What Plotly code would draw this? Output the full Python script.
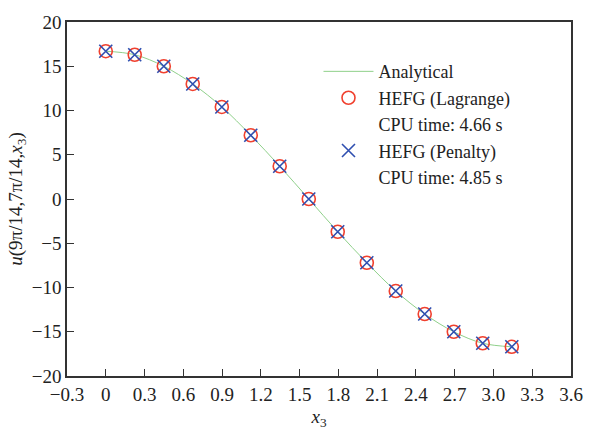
import plotly.graph_objects as go

# Sample points along x3 (k*pi/14, k = 0..14) and the displacement values
x3 = [0.0, 0.224, 0.449, 0.673, 0.898, 1.122, 1.346, 1.571,
      1.795, 2.020, 2.244, 2.468, 2.693, 2.917, 3.142]
u_analytical = [16.7, 16.3, 15.0, 13.0, 10.4, 7.2, 3.7, 0.0,
                -3.7, -7.2, -10.4, -13.0, -15.0, -16.3, -16.7]
u_lagrange = [16.7, 16.3, 15.0, 13.0, 10.4, 7.2, 3.7, 0.0,
              -3.7, -7.2, -10.4, -13.0, -15.0, -16.3, -16.7]
u_penalty = [16.7, 16.3, 15.0, 13.0, 10.4, 7.2, 3.7, 0.0,
             -3.7, -7.2, -10.4, -13.0, -15.0, -16.3, -16.7]

x_ticks = [-0.3, 0, 0.3, 0.6, 0.9, 1.2, 1.5, 1.8, 2.1, 2.4, 2.7, 3.0, 3.3, 3.6]
x_ticktext = ["\u22120.3", "0", "0.3", "0.6", "0.9", "1.2", "1.5", "1.8",
              "2.1", "2.4", "2.7", "3.0", "3.3", "3.6"]
y_ticks = [-20, -15, -10, -5, 0, 5, 10, 15, 20]
y_ticktext = ["\u221220", "\u221215", "\u221210", "\u22125", "0", "5", "10", "15", "20"]

FONT = "Liberation Serif"
AXIS_COLOR = "#333333"
TEXT_COLOR = "#222222"

fig = go.Figure()

fig.add_trace(go.Scatter(
    x=x3, y=u_analytical, mode="lines", name="Analytical",
    line=dict(color="#8fd08a", width=1, shape="spline"),
))
fig.add_trace(go.Scatter(
    x=x3, y=u_lagrange, mode="markers", name="HEFG (Lagrange)",
    marker=dict(symbol="circle-open", size=13, color="#f0402e",
                line=dict(width=1.6, color="#f0402e")),
))
fig.add_trace(go.Scatter(
    x=[None], y=[None], mode="markers", name="CPU time: 4.66 s",
    marker=dict(size=1, color="rgba(0,0,0,0)"),
))
fig.add_trace(go.Scatter(
    x=x3, y=u_penalty, mode="markers", name="HEFG (Penalty)",
    marker=dict(symbol="x-thin-open", size=13, color="#2f4fb0",
                line=dict(width=1.6, color="#2f4fb0")),
))
fig.add_trace(go.Scatter(
    x=[None], y=[None], mode="markers", name="CPU time: 4.85 s",
    marker=dict(size=1, color="rgba(0,0,0,0)"),
))

axis_common = dict(
    showgrid=False, zeroline=False,
    showline=True, linecolor=AXIS_COLOR, linewidth=1.6, mirror=True,
    ticks="inside", ticklen=7, tickwidth=1.4, tickcolor=AXIS_COLOR,
    tickfont=dict(family=FONT, size=19, color=TEXT_COLOR),
)

fig.update_xaxes(
    range=[-0.3, 3.6], tickmode="array", tickvals=x_ticks, ticktext=x_ticktext,
    title=dict(text="<i>x</i><sub>3</sub>", font=dict(family=FONT, size=19, color=TEXT_COLOR),
               standoff=6),
    **axis_common,
)
fig.update_yaxes(
    range=[-20, 20], tickmode="array", tickvals=y_ticks, ticktext=y_ticktext,
    title=dict(text="<i>u</i>(9\u03c0/14,7\u03c0/14,<i>x</i><sub>3</sub>)",
               font=dict(family=FONT, size=19, color=TEXT_COLOR), standoff=4),
    **axis_common,
)

fig.update_layout(
    width=595, height=436,
    margin=dict(l=67, r=13, t=14, b=54),
    paper_bgcolor="white", plot_bgcolor="white",
    showlegend=True,
    legend=dict(
        x=0.499, y=0.912, xanchor="left", yanchor="top",
        bgcolor="rgba(0,0,0,0)", borderwidth=0,
        font=dict(family=FONT, size=18, color=TEXT_COLOR),
        itemwidth=50, tracegroupgap=0,
    ),
)

fig.write_html("out.html")
